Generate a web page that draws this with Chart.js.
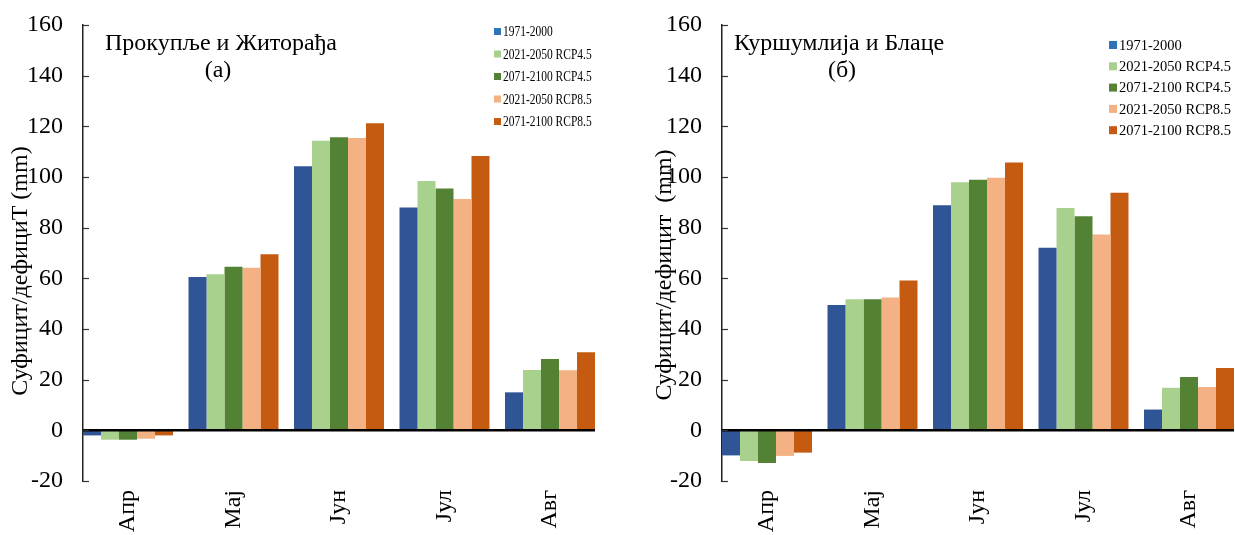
<!DOCTYPE html>
<html>
<head>
<meta charset="utf-8">
<script src="https://cdn.jsdelivr.net/npm/chart.js@4"></script>
<style>
  html, body { margin: 0; padding: 0; background: #fff; overflow: hidden; }
  body { width: 1235px; height: 535px; position: relative; }
  .box { position: absolute; top: 0; height: 535px; }
</style>
</head>
<body>
<div class="box" style="left:0;width:620px"><canvas id="graficoA"></canvas></div>
<div class="box" style="left:640px;width:594px"><canvas id="graficoB"></canvas></div>
<script>
// Meses (categorias do eixo X) e posições (índices)
const meses = ['Апр', 'Мај', 'Јун', 'Јул', 'Авг'];
const posicoes = [0, 1, 2, 3, 4];
const periodos = ['1971-2000', '2021-2050 RCP4.5', '2071-2100 RCP4.5', '2021-2050 RCP8.5', '2071-2100 RCP8.5'];
const cores = ['#2F5597', '#A9D18E', '#548235', '#F4B183', '#C55A11'];
const coresLegenda = ['#2E75B6', '#A9D18E', '#548235', '#F4B183', '#C55A11'];

// Прокупље и Житорађа (а)
const prok1971_2000 = [-2.0, 60.5, 104.2, 88.0, 15.0];
const prok2021_45 = [-3.7, 61.6, 114.3, 98.4, 23.8];
const prok2071_45 = [-3.7, 64.6, 115.7, 95.5, 28.2];
const prok2021_85 = [-3.3, 64.2, 115.4, 91.3, 23.7];
const prok2071_85 = [-2.0, 69.5, 121.2, 108.3, 30.8];

// Куршумлија и Блаце (б)
const kurs1971_2000 = [-9.9, 49.5, 88.8, 72.1, 8.2];
const kurs2021_45 = [-12.1, 51.7, 97.9, 87.8, 16.8];
const kurs2071_45 = [-12.9, 51.7, 98.9, 84.5, 21.1];
const kurs2021_85 = [-10.1, 52.4, 99.7, 77.3, 17.1];
const kurs2071_85 = [-8.8, 59.1, 105.7, 93.8, 24.6];

// Eixo Y
const yMin = -20, yMax = 160, yPasso = 20;

// Largura do grupo de barras (fração do espaço entre meses)
const grupo = 0.853;

const fonte = "'Liberation Serif', 'Times New Roman', serif";

// Plugin: linha zero, marcas internas, títulos e legenda
const extras = {
    id: 'extras',
    afterDatasetsDraw(chart, args, opts) {
        const { ctx, chartArea } = chart;
        const y = chart.scales.y;
        ctx.save();
        // linha do zero
        const y0 = y.getPixelForValue(0);
        ctx.strokeStyle = '#000';
        ctx.lineWidth = 2.5;
        ctx.beginPath();
        ctx.moveTo(chartArea.left, y0);
        ctx.lineTo(chartArea.right, y0);
        ctx.stroke();
        // marcas do eixo Y (para dentro)
        ctx.lineWidth = 1.2;
        ctx.strokeStyle = '#333';
        y.ticks.forEach(t => {
            const py = Math.round(y.getPixelForValue(t.value)) + 0.5;
            ctx.beginPath();
            ctx.moveTo(chartArea.left, py);
            ctx.lineTo(chartArea.left + 6, py);
            ctx.stroke();
        });
        // título do eixo Y
        ctx.fillStyle = '#000';
        ctx.font = '24px ' + fonte;
        ctx.textAlign = 'center';
        ctx.textBaseline = 'middle';
        ctx.save();
        ctx.translate(opts.yTitX, opts.yTitY);
        ctx.rotate(-Math.PI / 2);
        ctx.fillText(opts.yTitulo, 0, 0);
        ctx.restore();
        // título dentro do gráfico
        ctx.textAlign = 'left';
        ctx.textBaseline = 'alphabetic';
        ctx.fillText(opts.titulo, opts.tituloX, 50);
        ctx.textAlign = 'center';
        ctx.fillText(opts.letra, opts.letraX, 77);
        // legenda
        chart.data.datasets.forEach((ds, i) => {
            const ly = opts.legY + i * opts.legPasso;
            ctx.fillStyle = coresLegenda[i];
            ctx.fillRect(opts.legX, ly - opts.legQ / 2, opts.legQ, opts.legQ);
            ctx.fillStyle = '#000';
            ctx.font = opts.legFonte + 'px ' + fonte;
            ctx.textAlign = 'left';
            ctx.textBaseline = 'middle';
            ctx.save();
            ctx.translate(opts.legX + opts.legQ + 2, ly + 1);
            ctx.scale(opts.legEsc, 1);
            ctx.fillText(ds.label, 0, 0);
            ctx.restore();
        });
        ctx.restore();
    }
};

function criarGrafico(id, series, extrasOpts) {
    const ctx = document.getElementById(id).getContext('2d');
    return new Chart(ctx, {
        type: 'bar',
        data: {
            labels: posicoes,
            datasets: periodos.map((p, i) => ({
                label: p,
                data: series[i],
                backgroundColor: cores[i],
                borderWidth: 0,
                categoryPercentage: grupo,
                barPercentage: 1.0
            }))
        },
        options: {
            responsive: true,
            maintainAspectRatio: false,
            animation: false,
            layout: { padding: { top: 25, right: extrasOpts.padDir, bottom: 0, left: 0 } },
            plugins: {
                legend: { display: false },
                tooltip: { enabled: false },
                extras: extrasOpts
            },
            scales: {
                x: {
                    type: 'linear',
                    offset: false,
                    min: -grupo / 2,
                    max: meses.length - 1 + grupo / 2,
                    grid: { display: false, drawTicks: false },
                    border: { display: false },
                    ticks: {
                        stepSize: 1,
                        includeBounds: false,
                        autoSkip: false,
                        color: '#000',
                        font: { family: fonte, size: 24 },
                        minRotation: 90,
                        maxRotation: 90,
                        padding: 9,
                        callback: v => meses[v] ?? ''
                    },
                    afterFit(scale) { scale.height = 54; }
                },
                y: {
                    min: yMin,
                    max: yMax,
                    grid: { display: false, drawTicks: true, tickLength: 20 },
                    border: { display: true, color: '#222', width: 1.5 },
                    ticks: {
                        stepSize: yPasso,
                        color: '#000',
                        font: { family: fonte, size: 24 },
                        padding: 0
                    },
                    afterFit(scale) { scale.width = extrasOpts.eixoY; }
                }
            }
        },
        plugins: [extras]
    });
}

criarGrafico('graficoA', [prok1971_2000, prok2021_45, prok2071_45, prok2021_85, prok2071_85], {
    titulo: 'Прокупље и Житорађа', tituloX: 105, letra: '(а)', letraX: 218,
    yTitulo: 'Суфицит/дефициТ (mm)', yTitX: 21, yTitY: 271,
    legX: 494, legY: 31.5, legPasso: 22.5, legQ: 7, legFonte: 14, legEsc: 0.82,
    padDir: 25, eixoY: 83
});

criarGrafico('graficoB', [kurs1971_2000, kurs2021_45, kurs2071_45, kurs2021_85, kurs2071_85], {
    titulo: 'Куршумлија и Блаце', tituloX: 94, letra: '(б)', letraX: 202,
    yTitulo: 'Суфицит/дефицит  (mm)', yTitX: 25, yTitY: 275,
    legX: 469, legY: 45, legPasso: 21.3, legQ: 8, legFonte: 14.5, legEsc: 1.0,
    padDir: 0, eixoY: 82
});
</script>
</body>
</html>
